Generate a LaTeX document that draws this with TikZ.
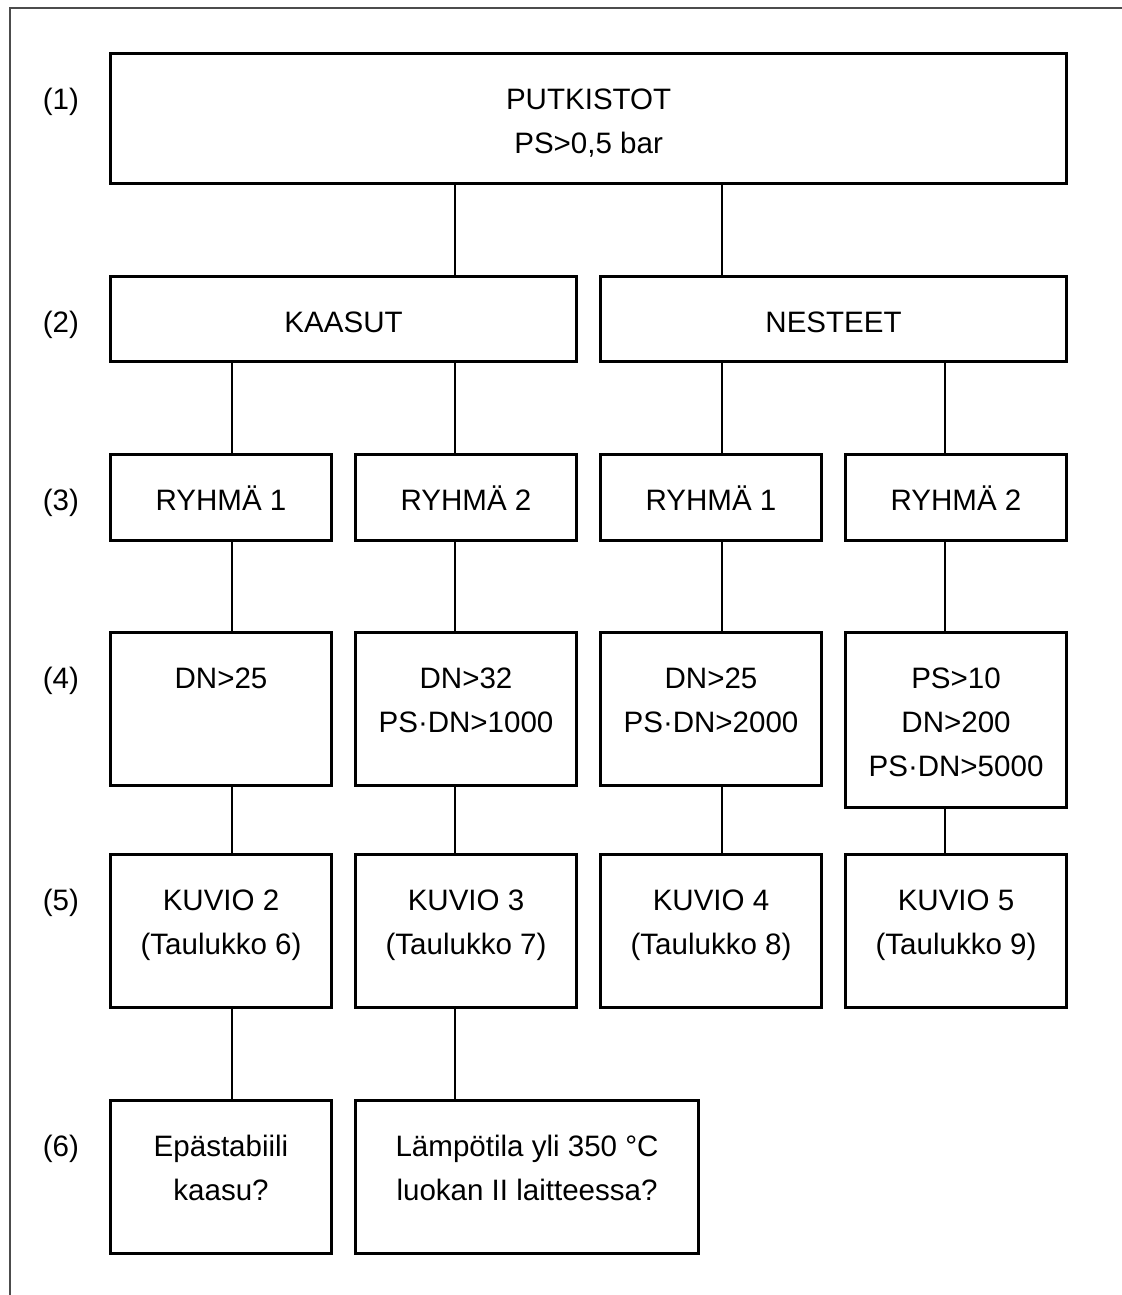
\documentclass[tikz,border=0pt]{standalone}
\usepackage{fontspec}
\setmainfont{Liberation Sans}
\usetikzlibrary{positioning}
\begin{document}
\begin{tikzpicture}[x=0.025cm, y=-0.025cm,
	box/.style={draw, line width=2.1pt, inner sep=0pt, outer sep=0pt, anchor=north west, minimum width=5.525cm, minimum height=3.825cm},
	txt/.style={inner sep=0pt, align=center, font=\fontsize{21pt}{31.3pt}\selectfont},
	link/.style={line width=2.1pt}]
	\useasboundingbox (0, 0) rectangle (1122, 1295);
	\draw[black!70, line width=1.4pt] (10, 1296) -- (10, 8) -- (1123, 8);

	\node[box, minimum width=23.9cm, minimum height=3.25cm] at (110.5, 53.5) (b1) {};
	\node[box, minimum width=11.65cm, minimum height=2.125cm] at (110.5, 276.5) (kaasut) {};
	\node[box, minimum width=11.65cm, minimum height=2.125cm] at (600.5, 276.5) (nesteet) {};

	\node[box, minimum height=2.15cm] at (110.5, 454.5) (r3a) {};
	\node[box, minimum height=2.15cm] at (355.5, 454.5) (r3b) {};
	\node[box, minimum height=2.15cm] at (600.5, 454.5) (r3c) {};
	\node[box, minimum height=2.15cm] at (845.5, 454.5) (r3d) {};

	\node[box] at (110.5, 632.5) (r4a) {};
	\node[box] at (355.5, 632.5) (r4b) {};
	\node[box] at (600.5, 632.5) (r4c) {};
	\node[box, minimum height=4.375cm] at (845.5, 632.5) (r4d) {};

	\node[box] at (110.5, 854.5) (r5a) {};
	\node[box] at (355.5, 854.5) (r5b) {};
	\node[box] at (600.5, 854.5) (r5c) {};
	\node[box] at (845.5, 854.5) (r5d) {};

	\node[box] at (110.5, 1100.5) (r6a) {};
	\node[box, minimum width=8.575cm] at (355.5, 1100.5) (r6b) {};

	% texts in the boxes
	\node[txt, below=0.62cm of b1.north] (t1) {\strut PUTKISTOT\\PS>0,5 bar};
	\node[txt, below=0.62cm of kaasut.north] (t2a) {\strut KAASUT};
	\node[txt, below=0.62cm of nesteet.north] (t2b) {\strut NESTEET};
	\node[txt, below=0.62cm of r3a.north] (t3a) {\strut RYHMÄ 1};
	\node[txt, below=0.62cm of r3b.north] (t3b) {\strut RYHMÄ 2};
	\node[txt, below=0.62cm of r3c.north] (t3c) {\strut RYHMÄ 1};
	\node[txt, below=0.62cm of r3d.north] (t3d) {\strut RYHMÄ 2};
	\node[txt, below=0.62cm of r4a.north] (t4a) {\strut DN>25};
	\node[txt, below=0.62cm of r4b.north] (t4b) {\strut DN>32\\PS·DN>1000};
	\node[txt, below=0.62cm of r4c.north] (t4c) {\strut DN>25\\PS·DN>2000};
	\node[txt, below=0.62cm of r4d.north] (t4d) {\strut PS>10\\DN>200\\PS·DN>5000};
	\node[txt, below=0.62cm of r5a.north] (t5a) {\strut KUVIO 2\\(Taulukko 6)};
	\node[txt, below=0.62cm of r5b.north] (t5b) {\strut KUVIO 3\\(Taulukko 7)};
	\node[txt, below=0.62cm of r5c.north] (t5c) {\strut KUVIO 4\\(Taulukko 8)};
	\node[txt, below=0.62cm of r5d.north] (t5d) {\strut KUVIO 5\\(Taulukko 9)};
	\node[txt, below=0.62cm of r6a.north] (t6a) {\strut Epästabiili\\kaasu?};
	\node[txt, below=0.62cm of r6b.north] (t6b) {\strut Lämpötila yli 350 °C\\luokan II laitteessa?};

	% row numbers
	\node[txt, below=0.62cm of b1.north west, xshift=-1.24cm] (n1) {\strut(1)};
	\node[txt, below=0.62cm of kaasut.north west, xshift=-1.24cm] (n2) {\strut(2)};
	\node[txt, below=0.62cm of r3a.north west, xshift=-1.24cm] (n3) {\strut(3)};
	\node[txt, below=0.62cm of r4a.north west, xshift=-1.24cm] (n4) {\strut(4)};
	\node[txt, below=0.62cm of r5a.north west, xshift=-1.24cm] (n5) {\strut(5)};
	\node[txt, below=0.62cm of r6a.north west, xshift=-1.24cm] (n6) {\strut(6)};

	\coordinate (c1) at (232, 0);
	\coordinate (c2) at (455, 0);
	\coordinate (c3) at (722, 0);
	\coordinate (c4) at (945, 0);

	\draw[link] (b1.south -| c2) -- (kaasut.north -| c2);
	\draw[link] (b1.south -| c3) -- (nesteet.north -| c3);
	\draw[link] (kaasut.south -| c1) -- (r3a.north -| c1);
	\draw[link] (kaasut.south -| c2) -- (r3b.north -| c2);
	\draw[link] (nesteet.south -| c3) -- (r3c.north -| c3);
	\draw[link] (nesteet.south -| c4) -- (r3d.north -| c4);
	\draw[link] (r3a.south -| c1) -- (r4a.north -| c1);
	\draw[link] (r3b.south -| c2) -- (r4b.north -| c2);
	\draw[link] (r3c.south -| c3) -- (r4c.north -| c3);
	\draw[link] (r3d.south -| c4) -- (r4d.north -| c4);
	\draw[link] (r4a.south -| c1) -- (r5a.north -| c1);
	\draw[link] (r4b.south -| c2) -- (r5b.north -| c2);
	\draw[link] (r4c.south -| c3) -- (r5c.north -| c3);
	\draw[link] (r4d.south -| c4) -- (r5d.north -| c4);
	\draw[link] (r5a.south -| c1) -- (r6a.north -| c1);
	\draw[link] (r5b.south -| c2) -- (r6b.north -| c2);
\end{tikzpicture}
\end{document}
